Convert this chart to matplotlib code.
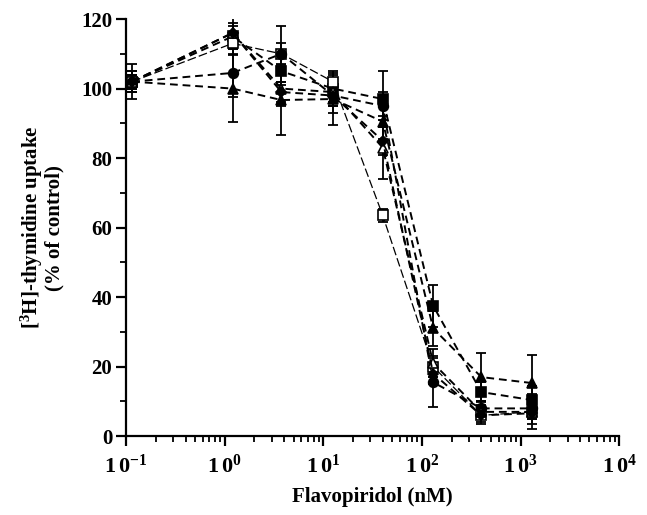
"""
Flavopiridol dose-response: [3H]-thymidine uptake vs concentration (log x).
"""

import matplotlib
matplotlib.use("Agg")
import matplotlib.pyplot as plt
from matplotlib.ticker import FixedLocator, FixedFormatter, LogLocator, NullFormatter, MultipleLocator

plt.rcParams['font.family'] = ['Liberation Serif', 'DejaVu Serif']
plt.rcParams['font.weight'] = 'bold'
plt.rcParams['mathtext.fontset'] = 'custom'
plt.rcParams['mathtext.rm'] = 'Liberation Serif:bold'
plt.rcParams['mathtext.bf'] = 'Liberation Serif:bold'
plt.rcParams['mathtext.it'] = 'Liberation Serif:bold'

# concentrations (nM)
conc = [0.115, 1.2, 3.75, 12.5, 40, 130, 400, 1300]

# uptake (% of control) per series, with error
filled_sq = [102, 115, 105, 100, 97, 37.5, 12.7, 10.4]
filled_sq_err = [3, 3, 4, 4, 8, 6, 3, 4]
open_sq = [102, 113, 110, 102, 63.5, 20, 6, 7]
open_sq_err = [2, 3, 3, 3, 2, 3, 2, 2]
filled_circ = [102, 104.5, 110, 98, 95, 15.5, 8, 8]
filled_circ_err = [2, 7, 8, 5, 4, 7, 2, 3]
filled_tri = [102, 100, 96.7, 97, 90.5, 31, 17, 15.3]
filled_tri_err = [5, 9.6, 10, 7.5, 5, 5, 7, 8]
open_tri = [102, 116, 100, 99, 83, 21, 7, 7]
open_tri_err = [3, 4.6, 5, 4, 9, 4, 2, 5]
filled_dia = [102, 116, 99, 98, 85, 18, 6, 6.6]
filled_dia_err = [2, 3, 3, 3, 4, 3, 2.5, 3]

x_ticks = [0.1, 1, 10, 100, 1000, 10000]
x_labels = [r'$1\,0^{-1}$', r'$1\,0^{0}$', r'$1\,0^{1}$', r'$1\,0^{2}$', r'$1\,0^{3}$', r'$1\,0^{4}$']

fig = plt.figure(figsize=(6.47, 5.15), dpi=100)
ax = fig.add_axes([0.195, 0.153, 0.762, 0.810])

series = [
    (filled_sq, filled_sq_err, 's', 'black', (4, 2.5), 1.4),
    (open_sq, open_sq_err, 's', 'white', (7, 2.5), 0.9),
    (filled_circ, filled_circ_err, 'o', 'black', (4, 2.5), 1.4),
    (filled_tri, filled_tri_err, '^', 'black', (4, 2.5), 1.4),
    (open_tri, open_tri_err, '^', 'white', (4, 2.5), 1.4),
    (filled_dia, filled_dia_err, 'D', 'black', (4, 2.5), 1.4),
]

for vals, errs, mk, fc, dash, lw in series:
    ax.errorbar(conc, vals, yerr=errs, fmt='none', ecolor='black',
                elinewidth=1.3, capsize=3.5, capthick=1.3, zorder=2)
    ax.plot(conc, vals, color='black', lw=lw, dashes=dash, marker=mk,
            markersize=7 if mk != 'D' else 5.5, markerfacecolor=fc,
            markeredgecolor='black', markeredgewidth=1.2, zorder=3)

ax.set_xscale('log')
ax.set_xlim(0.1, 10000)
ax.set_ylim(0, 120)

ax.xaxis.set_major_locator(FixedLocator(x_ticks))
ax.xaxis.set_major_formatter(FixedFormatter(x_labels))
ax.xaxis.set_minor_locator(LogLocator(base=10, subs=range(2, 10)))
ax.xaxis.set_minor_formatter(NullFormatter())
ax.yaxis.set_major_locator(MultipleLocator(20))
ax.yaxis.set_minor_locator(MultipleLocator(10))

for s in ['top', 'right']:
    ax.spines[s].set_visible(False)
for s in ['left', 'bottom']:
    ax.spines[s].set_linewidth(1.6)

ax.tick_params(axis='both', which='major', direction='out', length=7, width=1.6)
ax.tick_params(axis='both', which='minor', direction='out', length=4, width=1.3)
ax.tick_params(axis='x', which='major', labelsize=16, pad=6)
ax.tick_params(axis='y', which='major', labelsize=15, pad=3)

ax.set_xlabel('Flavopiridol (nM)', fontsize=15, fontweight='bold', labelpad=7)
ax.set_ylabel('[$^{3}$H]-thymidine uptake\n(% of control)', fontsize=15,
              fontweight='bold', labelpad=12, linespacing=0.95)

fig.savefig('out.png', dpi=100)
